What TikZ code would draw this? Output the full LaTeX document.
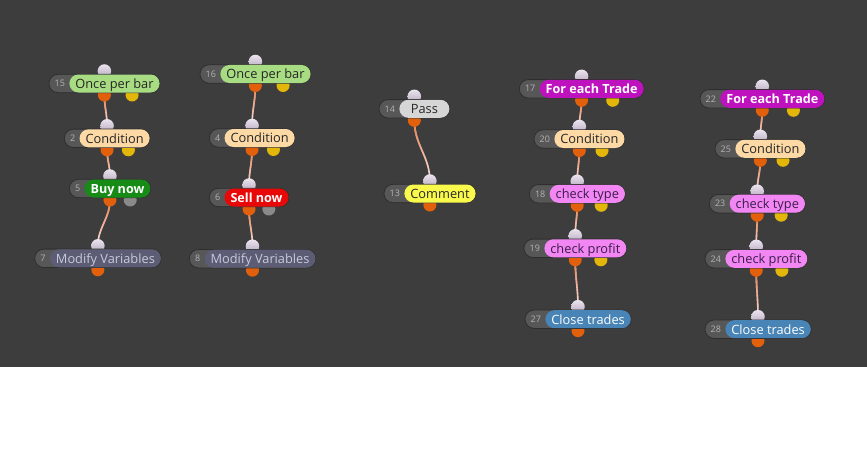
\documentclass[tikz,border=0pt]{standalone}
\usepackage{fontspec}
\setmainfont{Open Sans}
\usepackage{tikz}
\usetikzlibrary{calc,fadings}
\definecolor{canvas}{HTML}{3D3D3D}
\definecolor{tagfill}{HTML}{575757}
\definecolor{tagedge}{HTML}{2E2E2E}
\definecolor{tagtext}{HTML}{B4B4B4}
\definecolor{barfill}{HTML}{A8DC82}
\definecolor{condfill}{HTML}{FDD9A6}
\definecolor{buyfill}{HTML}{168C16}
\definecolor{sellfill}{HTML}{E80808}
\definecolor{modfill}{HTML}{5C5C74}
\definecolor{modtext}{HTML}{C8C8DE}
\definecolor{passfill}{HTML}{D6D6D6}
\definecolor{notefill}{HTML}{F9F94C}
\definecolor{loopfill}{HTML}{BE12BE}
\definecolor{checkfill}{HTML}{F286F2}
\definecolor{checktext}{HTML}{3C1C4C}
\definecolor{closefill}{HTML}{4884B6}
\definecolor{inlight}{HTML}{ECE4EF}
\definecolor{indark}{HTML}{B6A9BE}
\definecolor{portorange}{HTML}{E2600C}
\definecolor{portyellow}{HTML}{E3B60A}
\definecolor{portgrey}{HTML}{8A8A8A}
\definecolor{linklight}{HTML}{F6E4E8}
\definecolor{linkc}{HTML}{EE7A3E}
\pgfdeclarelayer{back}
\pgfdeclarelayer{links}
\pgfdeclarelayer{ports}
\pgfdeclarelayer{pills}
\pgfsetlayers{back,links,ports,pills,main}
% block: name, left point, number, label, label style
\newcommand{\block}[5]{%
  \node[tagtxt, anchor=west] (#1t) at (#2) {#3};
  \node[lbl, #5, anchor=west] (#1) at ([xshift=-1.5pt]#1t.east) {#4};
  \coordinate (#1c) at ($(#1t.west)!.5!(#1.east)$);
  \begin{pgfonlayer}{pills}
    \draw[tagbg] (#1t.west |- #1.north) rectangle (#1.south east);
  \end{pgfonlayer}
  \begin{pgfonlayer}{ports}
    \node[inport] (#1i) at ($(#1c)+(0,-12.5)$) {};
    \node[outport] (#1o) at ($(#1c)+(0,11.5)$) {};
  \end{pgfonlayer}}
% second output port
\newcommand{\extra}[2]{%
  \begin{pgfonlayer}{ports}
    \node[outport, #2] (#1x) at ($(#1t.west)!.75!(#1.east)+(0,11.5)$) {};
  \end{pgfonlayer}}

\begin{document}
\begin{tikzpicture}[
  x=1pt, y=-1pt,
  tagtxt/.style={font=\fontsize{9}{10}\selectfont, text=tagtext, inner xsep=5.5pt, inner ysep=0pt, text height=6.4pt, text depth=0pt},
  lbl/.style={rounded corners=9pt, minimum height=18pt, minimum width=50pt, inner xsep=6pt, inner ysep=0pt, text height=9.6pt, text depth=0pt, font=\fontsize{12.8}{13}\selectfont, text=black!85},
  hot/.style={font=\fontsize{12.6}{13}\selectfont\bfseries, text=white},
  tagbg/.style={fill=tagfill, draw=tagedge, line width=0.8pt, rounded corners=9pt},
  inport/.style={circle, minimum size=13.5pt, inner sep=0pt, top color=inlight, bottom color=indark},
  outport/.style={circle, minimum size=13pt, inner sep=0pt, fill=portorange},
  yport/.style={fill=portyellow},
  gport/.style={fill=portgrey},
  link/.style={draw=linklight, line width=1.6pt, postaction={draw=linkc, path fading=south}}]
  \useasboundingbox (0,0) rectangle (867,460);
  \begin{pgfonlayer}{back}
    \fill[canvas] (0,0) rectangle (867,366.5);
    \fill[white] (0,366.5) rectangle (867,460);
  \end{pgfonlayer}
  % buy column
  \block{n15}{49,83.5}{15}{Once per bar}{fill=barfill}
  \extra{n15}{yport}
  \block{n2}{64.3,138.3}{2}{Condition}{fill=condfill}
  \extra{n2}{yport}
  \block{n5}{69.3,188.5}{5}{Buy now}{fill=buyfill, hot}
  \extra{n5}{gport}
  \block{n7}{34.7,258.3}{7}{Modify Variables}{fill=modfill, text=modtext}
  % sell column
  \block{n16}{200,74}{16}{Once per bar}{fill=barfill}
  \extra{n16}{yport}
  \block{n4}{209.3,138}{4}{Condition}{fill=condfill}
  \extra{n4}{yport}
  \block{n6}{209.3,197.5}{6}{Sell now}{fill=sellfill, hot}
  \extra{n6}{gport}
  \block{n8}{189.3,258.7}{8}{Modify Variables}{fill=modfill, text=modtext}
  % pass
  \block{n14}{379,108.8}{14}{Pass}{fill=passfill}
  \block{n13}{384,193.5}{13}{Comment}{fill=notefill}
  % trades, first loop
  \block{n17}{519.3,88.8}{17}{For each Trade}{fill=loopfill, hot}
  \extra{n17}{yport}
  \block{n20}{534,139}{20}{Condition}{fill=condfill}
  \extra{n20}{yport}
  \block{n18}{529.3,193.8}{18}{check type}{fill=checkfill, text=checktext}
  \extra{n18}{yport}
  \block{n19}{524,248.3}{19}{check profit}{fill=checkfill, text=checktext}
  \extra{n19}{yport}
  \block{n27}{525,319.2}{27}{Close trades}{fill=closefill, text=white}
  % trades, second loop
  \block{n22}{700,98.8}{22}{For each Trade}{fill=loopfill, hot}
  \extra{n22}{yport}
  \block{n25}{715,148.8}{25}{Condition}{fill=condfill}
  \extra{n25}{yport}
  \block{n23}{709.3,203.7}{23}{check type}{fill=checkfill, text=checktext}
  \extra{n23}{yport}
  \block{n24}{705,258.8}{24}{check profit}{fill=checkfill, text=checktext}
  \extra{n24}{yport}
  \block{n28}{705,329.2}{28}{Close trades}{fill=closefill, text=white}
  \begin{pgfonlayer}{links}
    \draw[link] (n15o.center) to[out=-90, in=90] (n2i.center);
    \draw[link] (n2o.center) to[out=-90, in=90] (n5i.center);
    \draw[link] (n5o.center) to[out=-90, in=90] (n7i.center);
    \draw[link] (n16o.center) to[out=-90, in=90] (n4i.center);
    \draw[link] (n4o.center) to[out=-90, in=90] (n6i.center);
    \draw[link] (n6o.center) to[out=-90, in=90] (n8i.center);
    \draw[link] (n14o.center) to[out=-90, in=90] (n13i.center);
    \draw[link] (n17o.center) to[out=-90, in=90] (n20i.center);
    \draw[link] (n20o.center) to[out=-90, in=90] (n18i.center);
    \draw[link] (n18o.center) to[out=-90, in=90] (n19i.center);
    \draw[link] (n19o.center) to[out=-90, in=90] (n27i.center);
    \draw[link] (n22o.center) to[out=-90, in=90] (n25i.center);
    \draw[link] (n25o.center) to[out=-90, in=90] (n23i.center);
    \draw[link] (n23o.center) to[out=-90, in=90] (n24i.center);
    \draw[link] (n24o.center) to[out=-90, in=90] (n28i.center);
  \end{pgfonlayer}
\end{tikzpicture}
\end{document}
